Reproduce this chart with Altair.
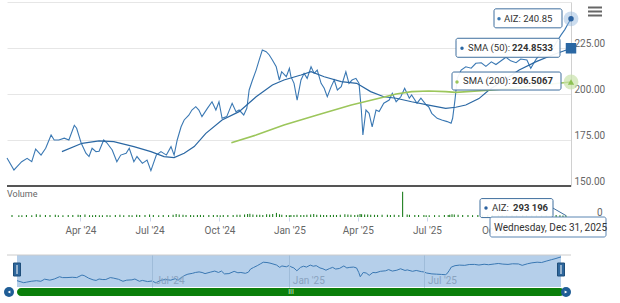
import altair as alt
import pandas as pd

# ---------------- data ----------------
DATES = [
    "2024-01-02", "2024-01-11", "2024-01-15", "2024-01-21", "2024-01-28", "2024-02-03", "2024-02-08", "2024-02-15", "2024-02-21", "2024-02-28",
    "2024-03-03", "2024-03-09", "2024-03-16", "2024-03-22", "2024-03-29", "2024-04-01", "2024-04-07", "2024-04-13", "2024-04-17", "2024-04-21",
    "2024-04-26", "2024-04-30", "2024-05-06", "2024-05-10", "2024-05-17", "2024-05-23", "2024-05-28", "2024-06-04", "2024-06-08", "2024-06-14",
    "2024-06-18", "2024-06-25", "2024-07-01", "2024-07-06", "2024-07-13", "2024-07-19", "2024-07-26", "2024-08-01", "2024-08-05", "2024-08-09",
    "2024-08-14", "2024-08-18", "2024-08-24", "2024-08-28", "2024-09-02", "2024-09-06", "2024-09-10", "2024-09-17", "2024-09-23", "2024-09-28",
    "2024-10-02", "2024-10-06", "2024-10-12", "2024-10-19", "2024-10-24", "2024-10-28", "2024-11-03", "2024-11-07", "2024-11-10", "2024-11-14",
    "2024-11-19", "2024-11-23", "2024-11-27", "2024-12-02", "2024-12-06", "2024-12-10", "2024-12-15", "2024-12-19", "2024-12-22", "2024-12-28",
    "2025-01-01", "2025-01-03", "2025-01-07", "2025-01-11", "2025-01-16", "2025-01-20", "2025-01-24", "2025-01-29", "2025-02-02", "2025-02-06",
    "2025-02-11", "2025-02-15", "2025-02-19", "2025-02-24", "2025-02-28", "2025-03-04", "2025-03-09", "2025-03-15", "2025-03-19", "2025-03-23",
    "2025-03-28", "2025-04-01", "2025-04-04", "2025-04-06", "2025-04-10", "2025-04-14", "2025-04-18", "2025-04-23", "2025-04-27", "2025-05-03",
    "2025-05-10", "2025-05-14", "2025-05-19", "2025-05-25", "2025-05-30", "2025-06-05", "2025-06-08", "2025-06-15", "2025-06-20", "2025-06-27",
    "2025-06-30", "2025-07-04", "2025-07-11", "2025-07-17", "2025-07-24", "2025-07-29", "2025-07-31", "2025-08-03", "2025-08-06", "2025-08-11",
    "2025-08-17", "2025-08-24", "2025-08-30", "2025-09-06", "2025-09-12", "2025-09-19", "2025-09-25", "2025-10-03", "2025-10-08", "2025-10-14",
    "2025-10-21", "2025-10-27", "2025-11-04", "2025-11-09", "2025-11-16", "2025-11-22", "2025-11-29", "2025-12-05", "2025-12-12", "2025-12-18",
    "2025-12-23", "2025-12-27", "2025-12-31",
]
PRICE = [
    165.2, 158.7, 160.5, 163.2, 165.0, 163.2, 170.0, 166.8, 170.5, 177.7,
    175.0, 175.0, 176.0, 175.0, 183.0, 181.4, 173.2, 167.8, 166.0, 170.5,
    168.7, 168.9, 175.0, 173.5, 169.6, 163.2, 166.8, 167.8, 170.5, 163.2,
    166.0, 162.3, 164.1, 158.3, 166.8, 168.7, 166.8, 171.4, 166.8, 175.0,
    182.2, 185.9, 188.5, 191.3, 193.1, 191.3, 187.7, 192.2, 195.8, 191.3,
    195.8, 186.8, 187.7, 194.9, 190.4, 191.3, 188.6, 192.2, 202.2, 207.2,
    213.0, 218.5, 223.9, 223.0, 221.2, 218.5, 214.8, 207.6, 212.1, 209.4,
    214.0, 209.4, 205.8, 196.7, 207.6, 211.2, 208.5, 214.8, 211.2, 213.0,
    205.8, 203.1, 198.5, 204.0, 207.6, 202.2, 204.0, 212.1, 205.8, 207.6,
    208.5, 205.8, 191.3, 177.7, 191.3, 189.5, 182.2, 191.3, 190.5, 195.0,
    196.7, 200.4, 195.8, 198.5, 203.1, 197.7, 199.5, 195.0, 197.7, 194.0,
    193.1, 189.5, 186.8, 185.9, 185.0, 184.1, 186.8, 196.7, 208.5, 213.0,
    214.8, 214.0, 216.7, 217.0, 215.0, 217.5, 216.0, 218.5, 220.0, 218.0,
    217.0, 219.0, 218.5, 214.0, 219.0, 222.0, 224.0, 223.0, 228.0, 232.0,
    235.0, 238.0, 240.85,
]
VOLUME = [
    420000, 380000, 350000, 400000, 370000, 560000, 480000, 390000, 410000, 450000,
    380000, 360000, 420000, 400000, 470000, 430000, 520000, 380000, 360000, 400000,
    370000, 340000, 390000, 360000, 400000, 450000, 380000, 410000, 360000, 480000,
    390000, 430000, 520000, 400000, 380000, 420000, 390000, 460000, 620000, 540000,
    480000, 420000, 390000, 380000, 400000, 430000, 370000, 390000, 420000, 410000,
    380000, 400000, 390000, 420000, 450000, 480000, 520000, 600000, 650000, 520000,
    480000, 450000, 420000, 580000, 500000, 620000, 850000, 560000, 480000, 430000,
    380000, 400000, 420000, 470000, 430000, 410000, 450000, 520000, 640000, 480000,
    460000, 430000, 410000, 390000, 440000, 420000, 480000, 560000, 500000, 440000,
    420000, 460000, 620000, 580000, 540000, 500000, 470000, 450000, 430000, 480000,
    440000, 420000, 470000, 430000, 5200000, 520000, 460000, 420000, 400000, 430000,
    380000, 360000, 390000, 370000, 420000, 400000, 480000, 560000, 520000, 450000,
    420000, 390000, 380000, 400000, 370000, 420000, 390000, 360000, 410000, 380000,
    400000, 370000, 420000, 390000, 360000, 400000, 380000, 350000, 370000, 390000,
    360000, 330000, 293196,
]
SMA50_DATES = [
    "2024-03-13", "2024-04-08", "2024-04-30", "2024-05-19", "2024-06-14", "2024-07-06", "2024-07-23", "2024-08-05", "2024-08-18", "2024-08-31",
    "2024-09-15", "2024-10-06", "2024-10-28", "2024-11-19", "2024-12-10", "2024-12-25", "2025-01-16", "2025-01-29", "2025-02-15", "2025-03-09",
    "2025-03-29", "2025-04-16", "2025-05-03", "2025-05-19", "2025-06-08", "2025-06-30", "2025-07-22", "2025-08-04", "2025-08-17", "2025-09-03",
    "2025-09-16", "2025-10-25", "2025-11-16", "2025-12-07", "2025-12-25", "2025-12-31",
]
SMA50 = [
    168.7, 173.2, 174.5, 174.1, 171.4, 168.7, 166.0, 165.4, 167.8, 171.4,
    178.6, 185.9, 190.4, 198.5, 204.9, 207.6, 210.3, 212.1, 209.4, 206.7,
    205.8, 201.3, 198.5, 197.7, 195.8, 194.0, 192.2, 192.8, 194.0, 197.5,
    202.2, 213.0, 217.6, 221.2, 223.9, 224.8533,
]
SMA200_DATES = [
    "2024-10-18", "2024-11-19", "2024-12-25", "2025-02-06", "2025-03-22", "2025-04-27", "2025-05-19", "2025-06-08",
    "2025-06-30", "2025-07-22", "2025-08-04", "2025-09-16", "2025-10-25", "2025-11-26", "2025-12-31",
]
SMA200 = [
    173.5, 177.7, 183.2, 188.6, 194.0, 197.7, 200.0, 201.3,
    201.6, 201.3, 200.9, 202.0, 203.5, 205.0, 206.5067,
]
AXIS_MONTHS = [(2024, 4), (2024, 7), (2024, 10), (2025, 1), (2025, 4), (2025, 7), (2025, 10)]
NAV_MONTHS = [(2024, 7), (2025, 1), (2025, 7)]
PRICE_TICKS = [150, 175, 200, 225, 250]
TICKER = "AIZ"

# ---------------- styling ----------------
PRICE_C = "#3a78b3"
SMA50_C = "#2a67a3"
SMA200_C = "#9cc65b"
VOL_C = "#1f7f1f"
BORDER_C = "#3f6f9e"
TXT_C = "#333333"
AX_C = "#666666"
FONT = "Roboto"
TIP_FS = 9.5

W = 564
H_PRICE = 184
H_VOL = 65
VOL_BAND = 29
H_NAV = 32


def dt(y, m, d):
    return alt.DateTime(year=y, month=m, date=d, utc=True)


X_DOMAIN = [dt(2024, 1, 2), dt(2025, 12, 31)]

price_df = pd.DataFrame({"date": DATES, "value": PRICE})
vol_df = pd.DataFrame({"date": DATES, "volume": VOLUME})
sma50_df = pd.DataFrame({"date": SMA50_DATES, "value": SMA50})
sma200_df = pd.DataFrame({"date": SMA200_DATES, "value": SMA200})
one = pd.DataFrame({"k": [0]})

last_price = pd.DataFrame({"date": [DATES[-1]], "value": [PRICE[-1]],
                           "label": [f"{TICKER}: {PRICE[-1]:.2f}"]})
last_sma50 = pd.DataFrame({"date": [SMA50_DATES[-1]], "value": [SMA50[-1]],
                           "lab": ["SMA (50):"], "val": [f"{SMA50[-1]:.4f}"]})
last_sma200 = pd.DataFrame({"date": [SMA200_DATES[-1]], "value": [SMA200[-1]],
                            "lab": ["SMA (200):"], "val": [f"{SMA200[-1]:.4f}"]})
last_vol = pd.DataFrame({"date": [DATES[-1]], "volume": [VOLUME[-1]],
                         "lab": [f"{TICKER}:"], "val": [f"{VOLUME[-1]:,}".replace(",", " ")],
                         "day": [pd.Timestamp(DATES[-1]).strftime("%A, %b %d, %Y")]})

# ---------------- price panel ----------------
x_scale = alt.Scale(type="utc", domain=X_DOMAIN)
y_scale = alt.Scale(domain=[150, 250], zero=False, nice=False)
y_axis = alt.Axis(orient="right", values=PRICE_TICKS,
                  labelExpr="datum.value >= 250 ? '' : format(datum.value, '.2f')",
                  grid=True, gridColor="#e6e6e6", domain=True, domainColor="#d0d0d0",
                  ticks=False, labelAlign="left", labelBaseline="bottom", labelPadding=3,
                  labelFontSize=10, labelColor=AX_C, title=None)
X = alt.X("date:T", scale=x_scale, axis=None)
Y = alt.Y("value:Q", scale=y_scale, axis=y_axis)

price_line = alt.Chart(price_df).mark_line(color=PRICE_C, strokeWidth=1.1).encode(X, Y)
sma50_line = alt.Chart(sma50_df).mark_line(color=SMA50_C, strokeWidth=1.2).encode(X, Y)
sma200_line = alt.Chart(sma200_df).mark_line(color=SMA200_C, strokeWidth=1.6).encode(X, Y)

bottom_rule = alt.Chart(one).mark_rule(color="#555555", strokeWidth=2).encode(
    x=alt.value(0), x2=alt.value(W), y=alt.value(H_PRICE))

menu = [alt.Chart(one).mark_rule(color="#666666", strokeWidth=2).encode(
    x=alt.value(581), x2=alt.value(595), y=alt.value(v)) for v in (5.5, 9.5, 13.5)]

# markers at the last point
p_halo = alt.Chart(last_price).mark_point(filled=True, size=220, color="#8fb4dc", opacity=0.45).encode(X, Y)
p_dot = alt.Chart(last_price).mark_point(filled=True, size=30, color="#2c62a0", opacity=1).encode(X, Y)
s50_mark = alt.Chart(last_sma50).mark_point(filled=True, shape="square", size=110, color=SMA50_C, opacity=1).encode(X, Y)
s200_halo = alt.Chart(last_sma200).mark_point(filled=True, size=220, color="#c9e2ab", opacity=0.7).encode(X, Y)
s200_mark = alt.Chart(last_sma200).mark_point(filled=True, shape="triangle-up", size=40, color="#8cc152", opacity=1).encode(X, Y)


def box(df, x0, x1, y0, y1, stroke=BORDER_C):
    return alt.Chart(df).mark_rect(fill="white", fillOpacity=0.92, stroke=stroke, strokeWidth=1,
                                   cornerRadius=2, xOffset=x0, x2Offset=x1, yOffset=y0, y2Offset=y1).encode(
        x=X, x2=alt.X2("date"), y=Y, y2=alt.Y2("value"))


def dot(df, dx, color, xe, ye):
    return alt.Chart(df).mark_point(filled=True, size=12, color=color, opacity=1, xOffset=dx).encode(x=xe, y=ye)


def txt(df, field, dx, xe, ye, bold=False, dy=0):
    return alt.Chart(df).mark_text(align="left", baseline="middle", dx=dx, dy=dy, fontSize=TIP_FS, color=TXT_C,
                                   fontWeight="bold" if bold else "normal").encode(x=xe, y=ye, text=f"{field}:N")


tip_price = [box(last_price, -77, -9, -10, 9), dot(last_price, -72, PRICE_C, X, Y), txt(last_price, "label", -67, X, Y)]
tip_s50 = [box(last_sma50, -115, -11, -10, 9), dot(last_sma50, -109, SMA50_C, X, Y),
           txt(last_sma50, "lab", -103, X, Y, dy=-0.5), txt(last_sma50, "val", -59, X, Y, True, dy=-0.5)]
tip_s200 = [box(last_sma200, -119, -10, -10, 8), dot(last_sma200, -114, SMA200_C, X, Y),
            txt(last_sma200, "lab", -108, X, Y, dy=-1), txt(last_sma200, "val", -59, X, Y, True, dy=-1)]

price_chart = alt.layer(
    price_line, sma50_line, sma200_line, bottom_rule,
    p_halo, p_dot, s50_mark, s200_halo, s200_mark,
    *tip_s200, *tip_s50, *tip_price, *menu,
).properties(width=W, height=H_PRICE)

# ---------------- volume panel ----------------
vol_scale = alt.Scale(domain=[0, 6000000], range=[VOL_BAND, 0], nice=False)
vol_axis = alt.Axis(orient="right", values=[0], labelAlign="right", labelBaseline="bottom", labelPadding=31,
                    ticks=False, domain=False, grid=False, labelFontSize=10, labelColor=AX_C, title=None)
vx_axis = alt.Axis(values=[dt(y, m, 1) for y, m in AXIS_MONTHS], format="%b '%y", labelFontSize=10,
                   labelColor=AX_C, tickSize=4, tickColor="#ccd6eb", domain=False, grid=False,
                   offset=-(H_VOL - VOL_BAND), labelPadding=4, title=None, zindex=0, labelFlush=False)
VX = alt.X("date:T", scale=x_scale, axis=vx_axis)
VY = alt.Y("volume:Q", scale=vol_scale, axis=vol_axis)

bars = alt.Chart(vol_df).mark_bar(color=VOL_C, size=1.1).encode(VX, VY)
vol_label = alt.Chart(one).mark_text(text="Volume", align="left", baseline="middle", fontSize=9,
                                     color=AX_C).encode(x=alt.value(0), y=alt.value(6))

vconn = alt.Chart(last_vol).mark_rule(color=BORDER_C, strokeWidth=1, xOffset=-13, yOffset=-7.5).encode(
    x=VX, y=VY, x2=alt.X2("date"), y2=alt.Y2("volume"))
vbox = alt.Chart(last_vol).mark_rect(fill="white", fillOpacity=0.92, stroke=BORDER_C, strokeWidth=1,
                                     cornerRadius=2, xOffset=-86, x2Offset=-13, yOffset=-17, y2Offset=2).encode(
    x=VX, x2=alt.X2("date"), y=VY, y2=alt.Y2("volume"))
vdot = alt.Chart(last_vol).mark_point(filled=True, size=12, color="#2c62a0", opacity=1, xOffset=-80, yOffset=-7.5).encode(x=VX, y=VY)
vlab = txt(last_vol, "lab", -74, VX, VY, dy=-7.5)
vval = txt(last_vol, "val", -53, VX, VY, True, dy=-7.5)

dbox = alt.Chart(last_vol).mark_rect(fill="white", fillOpacity=0.95, stroke="#5b86b3", strokeWidth=1,
                                     cornerRadius=2, xOffset=-76, x2Offset=40).encode(
    x=VX, x2=alt.X2("date"), y=alt.value(VOL_BAND), y2=alt.value(VOL_BAND + 20))
dtxt = alt.Chart(last_vol).mark_text(align="left", baseline="middle", dx=-72, fontSize=10, color=TXT_C).encode(
    x=VX, y=alt.value(VOL_BAND + 10.5), text="day:N")

vol_chart = alt.layer(bars, vol_label, vconn, vbox, vdot, vlab, vval, dbox, dtxt).properties(width=W, height=H_VOL)

# ---------------- navigator ----------------
nav_x = alt.X("date:T", scale=alt.Scale(type="utc", domain=X_DOMAIN, range=[10, 554]),
              axis=alt.Axis(values=[dt(y, m, 1) for y, m in NAV_MONTHS], format="%b '%y", grid=True,
                            gridColor="#9fbcd9", ticks=False, domain=False, labelAlign="left",
                            labelBaseline="middle", labelPadding=0, labelOffset=3, offset=-7,
                            labelColor="#8aa3bf", labelFontSize=10, zindex=1, title=None, labelFlush=False))
nav_y = alt.Y("value:Q", scale=alt.Scale(domain=[145, 247], zero=False, nice=False), axis=None)

mask = alt.Chart(one).mark_rect(fill="#b5cfea").encode(
    x=alt.value(10), x2=alt.value(554), y=alt.value(0), y2=alt.value(H_NAV))
nav_top = alt.Chart(one).mark_rule(color="#cccccc", strokeWidth=1).encode(
    x=alt.value(0), x2=alt.value(W), y=alt.value(0))
nav_line = alt.Chart(price_df).mark_line(color=PRICE_C, strokeWidth=1).encode(nav_x, nav_y)

handles = []
for hx in (10, 554):
    handles.append(alt.Chart(one).mark_rect(fill="#2f679c", stroke="#1f4e7a", strokeWidth=1).encode(
        x=alt.value(hx - 3.5), x2=alt.value(hx + 3.5), y=alt.value(8), y2=alt.value(21)))
    handles.append(alt.Chart(one).mark_rule(color="white", strokeWidth=1).encode(
        x=alt.value(hx), y=alt.value(10), y2=alt.value(19)))

scroll = alt.Chart(one).mark_rect(fill="#0b7f0b", cornerRadius=4).encode(
    x=alt.value(10), x2=alt.value(557), y=alt.value(33), y2=alt.value(41))
grip = alt.Chart(one).mark_text(text="III", fontSize=7, color="#d8ecd8", align="center", baseline="middle").encode(
    x=alt.value(284), y=alt.value(37))
buttons = []
for bx, shp in ((2, "triangle-left"), (559, "triangle-right")):
    buttons.append(alt.Chart(one).mark_point(filled=True, size=100, color="#1f5d96", opacity=1).encode(
        x=alt.value(bx), y=alt.value(37)))
    buttons.append(alt.Chart(one).mark_point(filled=True, shape=shp, size=10, color="white", opacity=1).encode(
        x=alt.value(bx), y=alt.value(37)))

nav_chart = alt.layer(mask, nav_top, nav_line, *handles, scroll, grip, *buttons).properties(width=W, height=H_NAV)

chart = alt.vconcat(price_chart, vol_chart, nav_chart, spacing=2, bounds="flush").properties(
    padding={"left": 4, "top": 2, "right": 0, "bottom": 0}
).configure(font=FONT).configure_view(stroke=None)

chart.save("out.html", embed_options={"renderer": "svg", "actions": False})
